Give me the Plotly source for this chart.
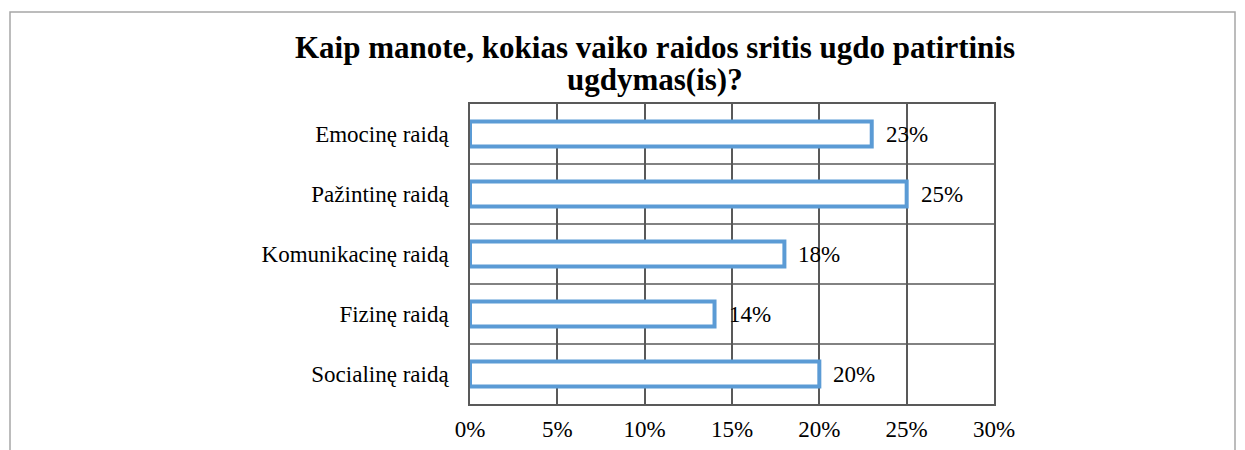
import plotly.graph_objects as go

categories = ["Emocinę raidą", "Pažintinę raidą", "Komunikacinę raidą", "Fizinę raidą", "Socialinę raidą"]
values = [23, 25, 18, 14, 20]
x_ticks = [0, 5, 10, 15, 20, 25, 30]
x_tick_labels = ["0%", "5%", "10%", "15%", "20%", "25%", "30%"]
title_lines = ["Kaip manote, kokias vaiko raidos sritis ugdo patirtinis", "ugdymas(is)?"]

OFF = 8  # default page body margin
W, H = 1245 - OFF, 450 - OFF
L, R, T, B = 462, 251, 96, 46
pw, ph = W - L - R, H - T - B
FONT = "Liberation Serif"

fig = go.Figure()
fig.add_trace(go.Bar(
    x=values, y=categories, orientation="h",
    marker=dict(color="white", line=dict(color="#5B9BD5", width=4)),
    width=0.42, hoverinfo="skip",
))

for v, c in zip(values, categories):
    fig.add_annotation(x=v, y=c, text=f"{v}%", showarrow=False, xanchor="left",
                       xshift=12, font=dict(family=FONT, size=23, color="black"))

def px_x(p):
    return (p - OFF - L) / pw

def px_y(p):
    return (H - B - (p - OFF)) / ph

for line, cy in zip(title_lines, [47, 80]):
    fig.add_annotation(xref="paper", yref="paper", x=px_x(655), y=px_y(cy),
                       xanchor="center", yanchor="middle", showarrow=False,
                       text=f"<b>{line}</b>", font=dict(family=FONT, size=31, color="black"))

fig.add_shape(type="rect", xref="paper", yref="paper",
              x0=px_x(10), x1=px_x(1235), y0=px_y(480), y1=px_y(12),
              line=dict(color="#A6A6A6", width=1.5), fillcolor="rgba(0,0,0,0)", layer="below")

fig.update_layout(
    width=W, height=H,
    margin=dict(l=L, r=R, t=T, b=B, pad=0, autoexpand=False),
    paper_bgcolor="white", plot_bgcolor="white",
    showlegend=False,
    xaxis=dict(range=[0, 30], tickvals=x_ticks, ticktext=x_tick_labels,
               showgrid=True, gridcolor="#595959", gridwidth=1.5,
               showline=True, linecolor="#595959", linewidth=1.5, mirror=True,
               zeroline=False, ticks="", ticklabelstandoff=4, automargin=False,
               tickfont=dict(family=FONT, size=23, color="black")),
    yaxis=dict(autorange="reversed", showgrid=False,
               showline=True, linecolor="#595959", linewidth=1.5, mirror=True,
               ticks="", ticklabelstandoff=15, automargin=False,
               tickfont=dict(family=FONT, size=23, color="black")),
)

for i in range(len(categories) - 1):
    fig.add_shape(type="line", xref="paper", yref="y", x0=0, x1=1, y0=i + 0.5, y1=i + 0.5,
                  line=dict(color="#595959", width=1.5), layer="below")

fig.write_html("out.html")
